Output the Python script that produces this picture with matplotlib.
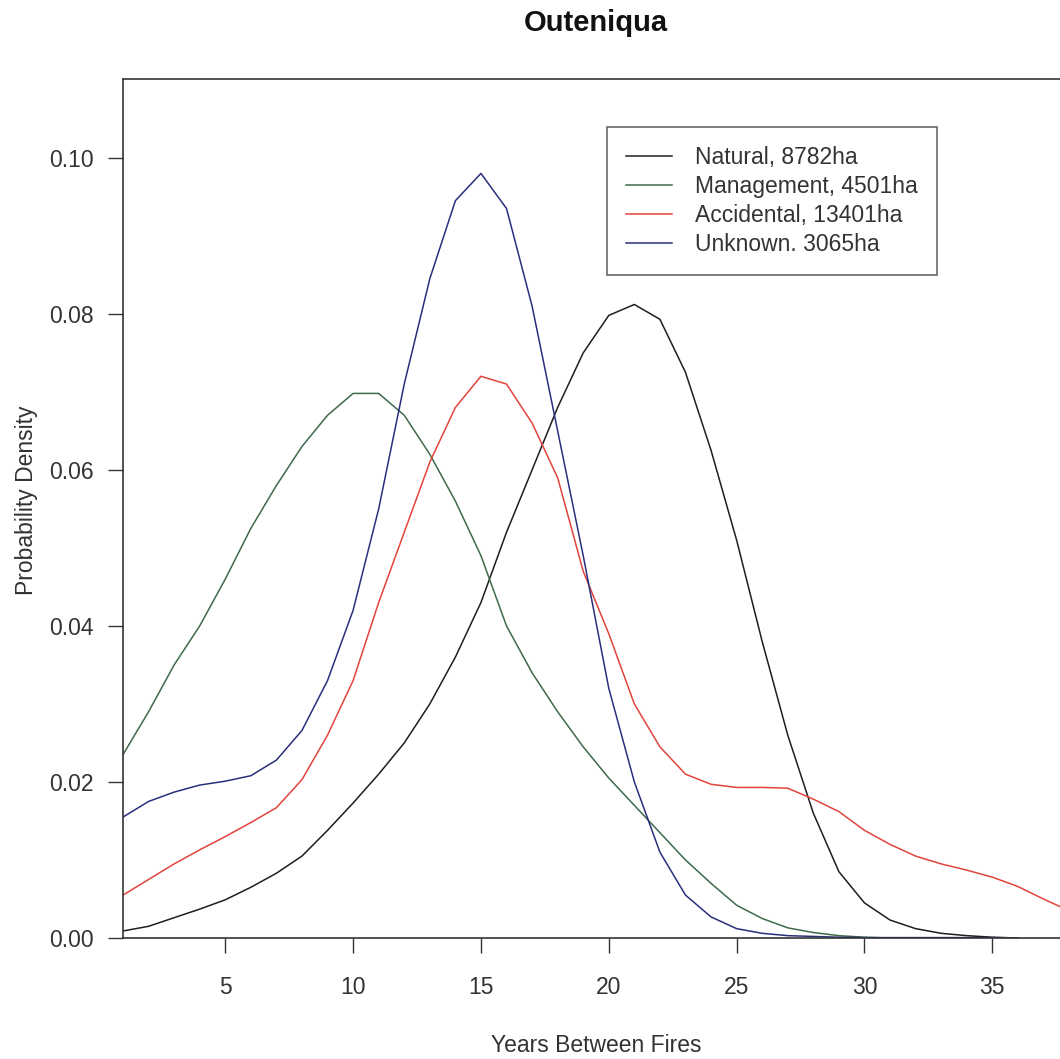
import matplotlib
matplotlib.use("Agg")
import matplotlib.pyplot as plt
import numpy as np

years_red = list(range(1, 39))
years_other = list(range(1, 37))

natural = [0.0009, 0.0015, 0.0026, 0.0037, 0.0049, 0.0065, 0.0083, 0.0105, 0.0138, 0.0173,
           0.021, 0.025, 0.030, 0.036, 0.043, 0.052, 0.060, 0.068, 0.075, 0.0798,
           0.0812, 0.0793, 0.0725, 0.0625, 0.051, 0.038, 0.026, 0.016, 0.0085, 0.0045,
           0.0023, 0.0012, 0.0006, 0.0003, 0.0001, 0.0]
management = [0.0235, 0.029, 0.035, 0.040, 0.046, 0.0525, 0.058, 0.063, 0.067, 0.0698,
              0.0698, 0.067, 0.062, 0.056, 0.049, 0.040, 0.034, 0.029, 0.0245, 0.0205,
              0.017, 0.0135, 0.010, 0.007, 0.0042, 0.0025, 0.0013, 0.0007, 0.0003, 0.0001,
              0.0, 0.0, 0.0, 0.0, 0.0, 0.0]
accidental = [0.0055, 0.0075, 0.0095, 0.0113, 0.013, 0.0148, 0.0167, 0.0203, 0.026, 0.033,
              0.043, 0.052, 0.061, 0.068, 0.072, 0.071, 0.066, 0.059, 0.047, 0.039,
              0.030, 0.0245, 0.021, 0.0197, 0.0193, 0.0193, 0.0192, 0.0178, 0.0162, 0.0138,
              0.012, 0.0105, 0.0095, 0.0087, 0.0078, 0.0066, 0.005, 0.0035]
unknown = [0.0155, 0.0175, 0.0187, 0.0196, 0.0201, 0.0208, 0.0228, 0.0266, 0.033, 0.042,
           0.055, 0.071, 0.0845, 0.0945, 0.098, 0.0935, 0.081, 0.065, 0.049, 0.032,
           0.020, 0.011, 0.0055, 0.0027, 0.0012, 0.0006, 0.0003, 0.0002, 0.0001, 0.00005,
           0.00005, 0.00005, 0.00005, 0.00005, 0.00005, 0.0]

labels = ["Natural, 8782ha", "Management, 4501ha", "Accidental, 13401ha", "Unknown. 3065ha"]
colors = ["#1e1e1e", "#3e6a4a", "#e2443c", "#2a2f7c"]
xticks = [5, 10, 15, 20, 25, 30, 35]
yticks = [0.00, 0.02, 0.04, 0.06, 0.08, 0.10]

plt.rcParams['font.family'] = ['Liberation Sans', 'DejaVu Sans']

fig = plt.figure(figsize=(10.60, 10.59), dpi=100)
ax = fig.add_axes([123/1060, 1 - 938/1059, (1069 - 123)/1060, (938 - 79)/1059])

series = [(years_other, natural), (years_other, management), (years_red, accidental), (years_other, unknown)]
for (xs, ys), lab, c in zip(series, labels, colors):
    ax.plot(xs, ys, color=c, lw=1.1, label=lab)

ax.set_xlim(1, 38)
ax.set_ylim(0, 0.1101)
ax.set_xticks(xticks)
ax.set_xticklabels([str(v) for v in xticks])
ax.set_yticks(yticks)
ax.set_yticklabels([f"{v:.2f}" for v in yticks])
ax.tick_params(axis='both', direction='out', length=11, width=1.0, color='#333333',
               labelsize=16.5, labelcolor='#333333')
ax.tick_params(axis='x', pad=16)
ax.tick_params(axis='y', pad=10)
for sp in ax.spines.values():
    sp.set_color('#333333')
    sp.set_linewidth(1.2)

fig.text(596/1060, 1 - 1046/1059, "Years Between Fires", ha='center', va='center',
         fontsize=16.5, color='#333333')
fig.text(27/1060, 1 - 500/1059, "Probability Density", ha='center', va='center',
         rotation=90, fontsize=16.5, color='#333333')
fig.text(596/1060, 1 - 23/1059, "Outeniqua", ha='center', va='center',
         fontsize=21, fontweight='bold', color='#111111')

leg = ax.legend(loc='upper left', bbox_to_anchor=((607 - 123) / 946, 1 - (127 - 79) / 859),
                frameon=True, fancybox=False, fontsize=16.5, handlelength=2.0,
                handletextpad=1.0, labelspacing=0.25, borderpad=0.85, borderaxespad=0)
leg.get_frame().set_edgecolor('#333333')
leg.get_frame().set_linewidth(1.1)
for t in leg.get_texts():
    t.set_color('#333333')

fig.savefig("out.png", dpi=100)
